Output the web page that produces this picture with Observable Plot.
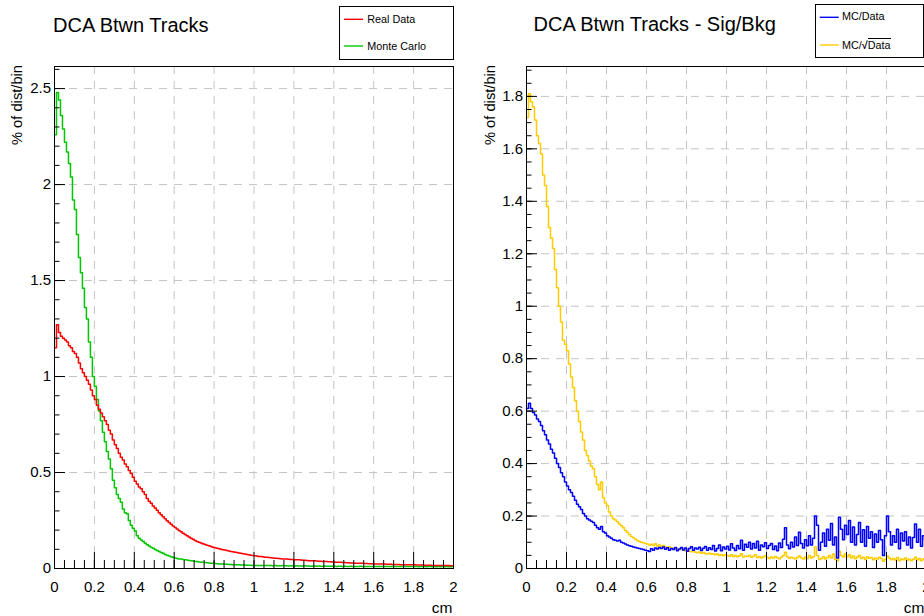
<!DOCTYPE html>
<html><head><meta charset="utf-8">
<script src="https://cdn.jsdelivr.net/npm/d3@7"></script>
<script src="https://cdn.jsdelivr.net/npm/@observablehq/plot@0.6"></script>
<style>
html,body{margin:0;padding:0;background:#fff;overflow:hidden}
#wrap{position:relative;width:924px;height:616px;overflow:hidden;font-family:"Liberation Sans",Arial,Helvetica,sans-serif;color:#000}
.panel{position:absolute;top:0}
.title{position:absolute;font-size:20px;line-height:20px;white-space:nowrap}
.legend{position:absolute;border:1px solid #000;background:#fff;box-sizing:border-box}
.entry{position:absolute;font-size:10.8px;line-height:11px;white-space:nowrap}
.ov{border-top:1px solid #000;padding-top:0px}
#overlay{position:absolute;left:0;top:0;pointer-events:none}
</style></head><body><div id="wrap"></div><script>
// ---- data (bin width 0.01 cm, bins from 0 to 2 cm) ----
const binWidth = 0.01;
const realData = [
1.15,1.27,1.23,1.21,1.20,1.19,1.18,1.16,1.15,1.13,
1.12,1.10,1.07,1.04,1.02,1.00,0.98,0.96,0.93,0.90,
0.88,0.85,0.83,0.81,0.79,0.77,0.75,0.72,0.70,0.67,
0.645,0.625,0.60,0.58,0.565,0.545,0.53,0.51,0.495,0.475,
0.455,0.44,0.425,0.415,0.40,0.385,0.365,0.35,0.34,0.325,
0.315,0.303,0.291,0.280,0.269,0.259,0.249,0.240,0.231,0.222,
0.214,0.206,0.198,0.191,0.184,0.177,0.170,0.164,0.158,0.152,
0.146,0.141,0.137,0.133,0.129,0.125,0.121,0.118,0.114,0.111,
0.108,0.105,0.103,0.100,0.098,0.096,0.094,0.091,0.089,0.087,
0.085,0.083,0.081,0.079,0.077,0.075,0.073,0.071,0.069,0.068,
0.066,0.065,0.063,0.062,0.061,0.059,0.058,0.057,0.056,0.055,
0.054,0.053,0.052,0.051,0.050,0.050,0.049,0.048,0.047,0.047,
0.046,0.045,0.045,0.044,0.043,0.043,0.042,0.041,0.041,0.040,
0.040,0.039,0.038,0.038,0.037,0.037,0.036,0.035,0.035,0.034,
0.033,0.033,0.032,0.032,0.031,0.031,0.030,0.030,0.029,0.029,
0.028,0.028,0.028,0.027,0.027,0.026,0.026,0.025,0.025,0.025,
0.024,0.024,0.024,0.023,0.023,0.023,0.022,0.022,0.022,0.021,
0.021,0.021,0.021,0.020,0.020,0.020,0.020,0.019,0.019,0.019,
0.019,0.018,0.018,0.018,0.018,0.017,0.017,0.017,0.017,0.016,
0.016,0.016,0.016,0.015,0.015,0.015,0.015,0.015,0.014,0.014];
const monteCarlo = [
2.26,2.48,2.44,2.36,2.29,2.22,2.17,2.11,2.04,1.92,
1.87,1.74,1.62,1.54,1.46,1.36,1.30,1.18,1.10,1.00,
0.95,0.88,0.82,0.77,0.71,0.66,0.61,0.57,0.52,0.46,
0.42,0.385,0.365,0.345,0.31,0.29,0.285,0.25,0.225,0.21,
0.195,0.17,0.158,0.148,0.14,0.132,0.124,0.117,0.111,0.106,
0.099,0.094,0.088,0.084,0.079,0.073,0.069,0.065,0.061,0.058,
0.055,0.052,0.050,0.049,0.047,0.046,0.044,0.042,0.040,0.039,
0.037,0.036,0.034,0.033,0.032,0.031,0.030,0.029,0.028,0.027,
0.026,0.025,0.024,0.024,0.023,0.022,0.022,0.021,0.021,0.020,
0.020,0.019,0.019,0.018,0.018,0.018,0.017,0.017,0.017,0.016,
0.016,0.016,0.016,0.015,0.016,0.015,0.015,0.015,0.015,0.014,
0.015,0.014,0.014,0.014,0.015,0.014,0.014,0.013,0.014,0.014,
0.013,0.014,0.013,0.013,0.013,0.014,0.013,0.013,0.012,0.013,
0.013,0.012,0.013,0.012,0.012,0.013,0.012,0.012,0.012,0.012,
0.012,0.011,0.012,0.012,0.011,0.012,0.011,0.011,0.012,0.011,
0.011,0.011,0.011,0.012,0.011,0.011,0.010,0.011,0.011,0.011,
0.011,0.010,0.011,0.010,0.011,0.010,0.011,0.010,0.010,0.011,
0.010,0.010,0.011,0.010,0.010,0.010,0.010,0.011,0.010,0.010,
0.010,0.010,0.009,0.010,0.010,0.010,0.009,0.010,0.010,0.009,
0.010,0.009,0.010,0.009,0.010,0.009,0.010,0.009,0.009,0.010];
const mcOverData = [
0.61,0.63,0.61,0.595,0.585,0.57,0.56,0.545,0.525,0.51,
0.49,0.475,0.455,0.44,0.42,0.40,0.385,0.365,0.35,0.33,
0.315,0.30,0.29,0.275,0.26,0.245,0.235,0.225,0.21,0.20,
0.19,0.185,0.18,0.175,0.165,0.155,0.15,0.16,0.14,0.135,
0.125,0.12,0.115,0.11,0.108,0.105,0.108,0.10,0.097,0.093,
0.09,0.087,0.085,0.082,0.08,0.078,0.076,0.074,0.072,0.07,
0.068,0.065,0.075,0.07,0.078,0.074,0.08,0.076,0.082,0.073,
0.079,0.07,0.076,0.072,0.08,0.068,0.074,0.08,0.071,0.078,
0.066,0.076,0.083,0.07,0.078,0.074,0.081,0.069,0.077,0.084,
0.07,0.079,0.072,0.088,0.067,0.076,0.09,0.068,0.082,0.074,
0.085,0.071,0.094,0.078,0.069,0.088,0.075,0.108,0.07,0.092,
0.081,0.10,0.074,0.095,0.078,0.104,0.07,0.09,0.083,0.098,
0.076,0.088,0.095,0.072,0.086,0.068,0.097,0.08,0.112,0.155,
0.09,0.075,0.10,0.082,0.12,0.088,0.138,0.095,0.078,0.11,
0.087,0.125,0.09,0.115,0.20,0.165,0.07,0.10,0.135,0.085,
0.15,0.108,0.172,0.09,0.12,0.04,0.195,0.15,0.11,0.165,
0.13,0.183,0.10,0.158,0.09,0.13,0.175,0.10,0.148,0.085,
0.16,0.115,0.14,0.08,0.132,0.10,0.145,0.11,0.05,0.125,
0.20,0.14,0.09,0.125,0.10,0.15,0.075,0.135,0.105,0.14,
0.09,0.12,0.078,0.118,0.17,0.10,0.15,0.085,0.125,0.11];
const mcOverSqrtData = [
1.72,1.81,1.78,1.76,1.71,1.65,1.62,1.58,1.50,1.46,
1.38,1.30,1.26,1.22,1.14,1.07,1.00,0.94,0.87,0.855,
0.83,0.78,0.73,0.69,0.64,0.60,0.56,0.52,0.49,0.45,
0.43,0.41,0.39,0.38,0.35,0.32,0.30,0.33,0.27,0.25,
0.24,0.215,0.20,0.19,0.185,0.178,0.17,0.163,0.155,0.145,
0.138,0.13,0.122,0.117,0.112,0.107,0.103,0.10,0.098,0.095,
0.093,0.09,0.092,0.088,0.094,0.086,0.09,0.084,0.088,0.082,
0.08,0.083,0.078,0.076,0.079,0.074,0.072,0.075,0.07,0.068,
0.071,0.066,0.064,0.067,0.062,0.06,0.063,0.058,0.061,0.057,
0.055,0.058,0.054,0.056,0.052,0.055,0.05,0.053,0.049,0.052,
0.05,0.047,0.052,0.046,0.05,0.045,0.049,0.056,0.044,0.048,
0.046,0.05,0.043,0.047,0.052,0.042,0.046,0.04,0.045,0.049,
0.043,0.038,0.044,0.04,0.046,0.041,0.037,0.043,0.05,0.062,
0.045,0.039,0.043,0.04,0.036,0.042,0.048,0.04,0.036,0.044,
0.038,0.05,0.04,0.045,0.082,0.05,0.034,0.038,0.045,0.036,
0.042,0.05,0.04,0.055,0.035,0.03,0.066,0.05,0.044,0.055,
0.045,0.052,0.04,0.048,0.037,0.044,0.05,0.038,0.043,0.034,
0.045,0.039,0.042,0.033,0.04,0.036,0.043,0.038,0.028,0.035,
0.048,0.04,0.033,0.038,0.032,0.042,0.03,0.036,0.033,0.04,
0.031,0.036,0.03,0.035,0.043,0.032,0.038,0.03,0.036,0.034];

const xMajor = [0, 0.2, 0.4, 0.6, 0.8, 1, 1.2, 1.4, 1.6, 1.8, 2];
const yLeftMajor = [0, 0.5, 1, 1.5, 2, 2.5];
const yRightMajor = [0, 0.2, 0.4, 0.6, 0.8, 1, 1.2, 1.4, 1.6, 1.8];
const xMinorStep = 0.05, yLeftMinorStep = 0.1, yRightMinorStep = 0.05;
const leftTitle = "DCA Btwn Tracks";
const rightTitle = "DCA Btwn Tracks - Sig/Bkg";
const yLabel = "% of dist/bin";
const xLabel = "cm";
const colors = {real: "#ff0000", mc: "#00c800", ratio: "#0000ff", sqrtRatio: "#ffcc00"};

const FONT = '"Liberation Sans", Arial, Helvetica, sans-serif';
const minor = (step, max) => d3.range(0, Math.round(max / step) + 1).map(i => +(i * step).toFixed(4));

function steps(values) {
  const pts = values.map((v, i) => ({x: i * binWidth, y: v}));
  pts.push({x: values.length * binWidth, y: values[values.length - 1]});
  return pts;
}

function makePanel({width, marginLeft, marginRight, yMax, yMajor, yMinor, series}) {
  const fmt = d => String(d);
  const grid = {stroke: "#c4c4c4", strokeOpacity: 1, strokeWidth: 1, strokeDasharray: "8,7"};
  return Plot.plot({
    width, height: 616, marginTop: 66, marginBottom: 48, marginLeft, marginRight,
    style: {fontFamily: FONT, fontSize: "15px", color: "#000", background: "transparent", overflow: "visible"},
    x: {domain: [0, 2]},
    y: {domain: [0, yMax]},
    marks: [
      Plot.gridX(xMajor.filter(d => d > 0 && d < 2), grid),
      Plot.gridY(yMajor.filter(d => d > 0), grid),
      ...series.map(s => Plot.line(steps(s.values), {x: "x", y: "y", curve: "step-after", stroke: s.color, strokeWidth: 1.5})),
      Plot.axisX(minor(xMinorStep, 2), {tickSize: -8, tickFormat: () => "", label: null, stroke: "#000"}),
      Plot.axisX(xMajor, {tickSize: -16, tickFormat: () => "", label: null, stroke: "#000"}),
      Plot.axisX(xMajor, {tickSize: 0, tickPadding: 13.3, tickFormat: fmt, label: null, fontSize: 15, fill: "#000"}),
      Plot.axisY(yMinor, {tickSize: -5.5, tickFormat: () => "", label: null, stroke: "#000"}),
      Plot.axisY(yMajor, {tickSize: -11, tickFormat: () => "", label: null, stroke: "#000"}),
      Plot.axisY(yMajor, {tickSize: 0, tickPadding: 3.5, tickFormat: fmt, label: null, fontSize: 15, fill: "#000"}),
      Plot.frame({stroke: "#000", strokeWidth: 1})
    ]
  });
}

const wrap = document.getElementById("wrap");

function addPanel(svg, left, yLabX, cmX) {
  svg.classList.add("panel");
  svg.style.left = left + "px";
  const s = d3.select(svg);
  s.append("text").attr("transform", `translate(${yLabX},65) rotate(-90)`)
    .attr("text-anchor", "end").attr("font-size", 14.7).attr("fill", "#000").attr("font-family", FONT).text(yLabel);
  s.append("text").attr("x", cmX).attr("y", 613).attr("text-anchor", "end")
    .attr("font-size", 15.5).attr("fill", "#000").attr("font-family", FONT).text(xLabel);
  wrap.appendChild(svg);
}

const left = makePanel({
  width: 462, marginLeft: 54, marginRight: 9, yMax: 2.615,
  yMajor: yLeftMajor, yMinor: minor(yLeftMinorStep, 2.6),
  series: [{values: monteCarlo, color: colors.mc}, {values: realData, color: colors.real}]
});
addPanel(left, 0, 21.5, 452.5);

const right = makePanel({
  width: 474, marginLeft: 64, marginRight: 10, yMax: 1.914,
  yMajor: yRightMajor, yMinor: minor(yRightMinorStep, 1.9),
  series: [{values: mcOverSqrtData, color: colors.sqrtRatio}, {values: mcOverData, color: colors.ratio}]
});
addPanel(right, 462, 33, 462.5);

function html(tag, cls, style, content) {
  const el = document.createElement(tag);
  if (cls) el.className = cls;
  for (const [k, v] of Object.entries(style)) el.style.setProperty(k, v);
  if (content != null) el.innerHTML = content;
  return el;
}
wrap.appendChild(html("div", "title", {left: "53px", top: "14.5px"}, leftTitle));
wrap.appendChild(html("div", "title", {left: "533.5px", top: "13.8px"}, rightTitle));

const legL = [{label: "Real Data", color: colors.real}, {label: "Monte Carlo", color: colors.mc}];
const legR = [{label: "MC/Data", color: colors.ratio}, {label: 'MC/<span style="font-weight:bold">&#8730;</span><span class="ov">Data</span>', color: colors.sqrtRatio}];

// overlay svg for legend swatch lines
const overlay = d3.select(wrap).append("svg").attr("id", "overlay").attr("width", 924).attr("height", 616);

function legend(entries, box, rows) {
  wrap.insertBefore(html("div", "legend", {left: box.x + "px", top: box.y + "px", width: box.w + "px", height: box.h + "px"}), overlay.node());
  entries.forEach((e, i) => {
    overlay.append("line").attr("x1", box.lx).attr("x2", box.lx + 19)
      .attr("y1", rows[i].line).attr("y2", rows[i].line)
      .attr("stroke", e.color).attr("stroke-width", 1.4);
    wrap.appendChild(html("div", "entry", {left: box.tx + "px", top: rows[i].text + "px"}, e.label));
  });
}
legend(legL, {x: 339, y: 6, w: 115, h: 54, lx: 344, tx: 367.3}, [{line: 19.3, text: 14}, {line: 46, text: 40.7}]);
legend(legR, {x: 815, y: 4, w: 109, h: 54, lx: 819.7, tx: 842}, [{line: 17.3, text: 11.4}, {line: 45, text: 39.8}]);
</script></body></html>
